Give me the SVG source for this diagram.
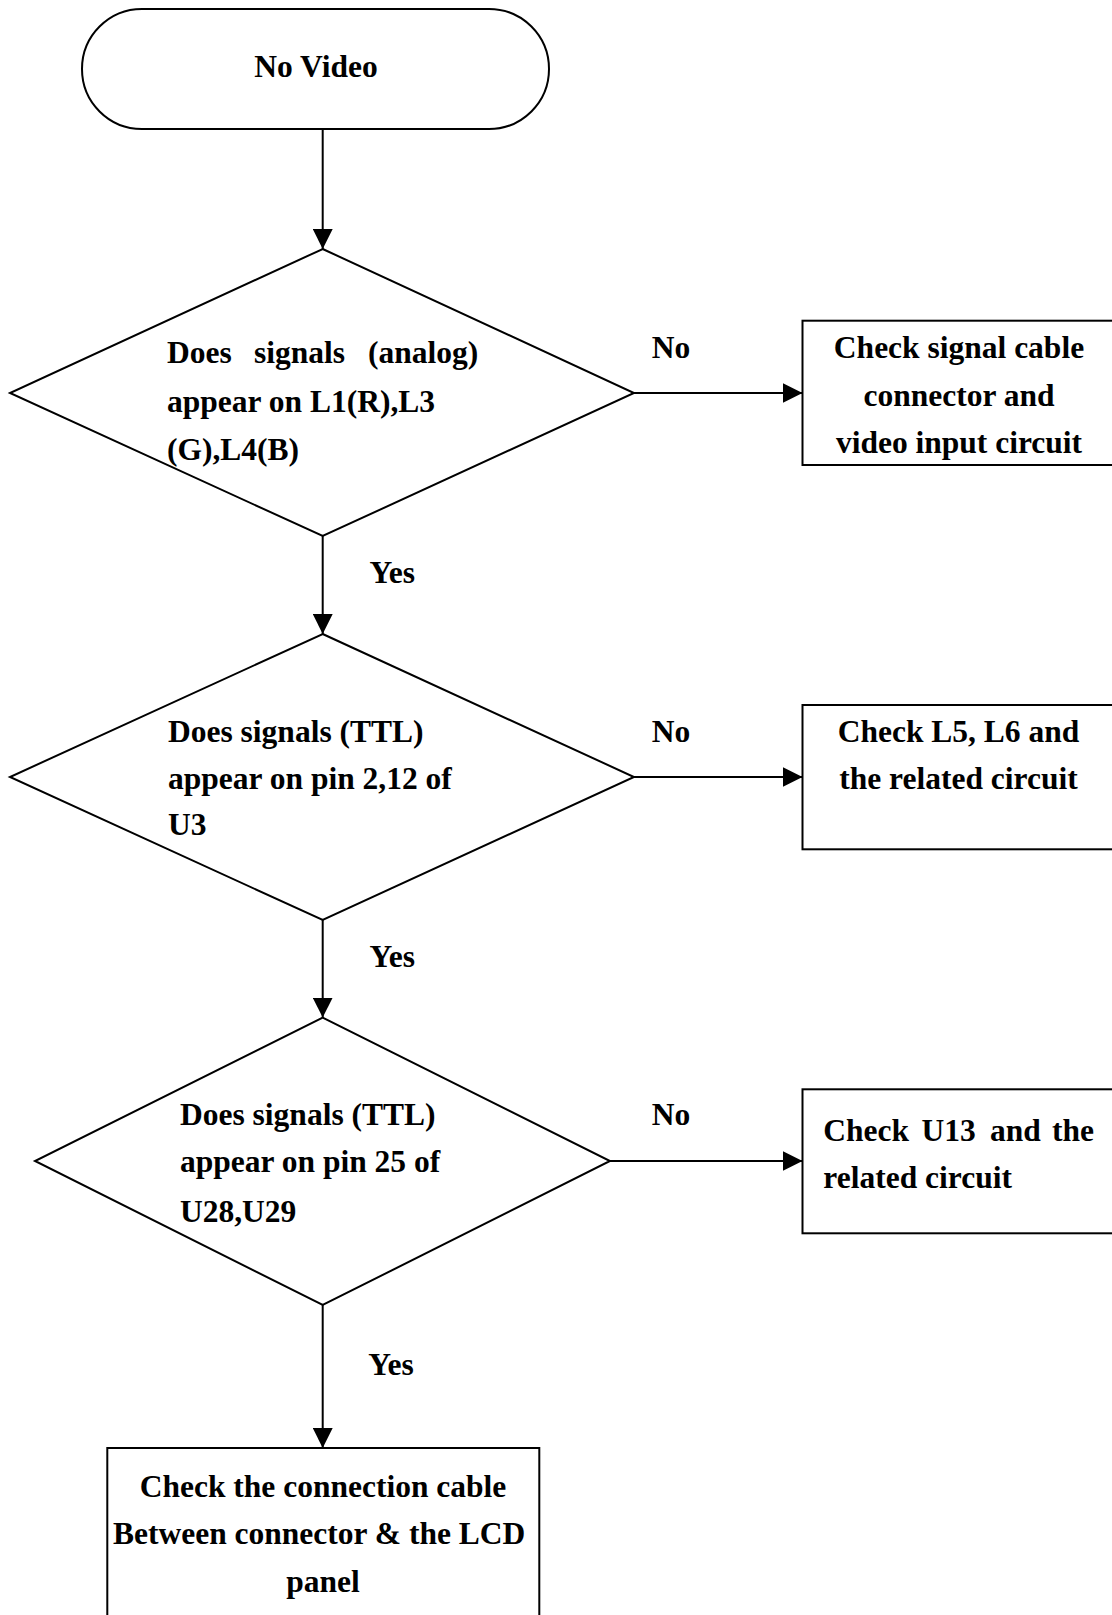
<svg xmlns="http://www.w3.org/2000/svg" width="1112" height="1615" viewBox="0 0 1112 1615">
<style>
.shape{fill:#fff;stroke:#000;stroke-width:2}
.conn{fill:none;stroke:#000;stroke-width:2}
text{font-family:"Liberation Serif","Times New Roman",serif;font-weight:bold;font-size:31.5px;fill:#000}
.mid{text-anchor:middle}
</style>
<defs>
<marker id="arrow" viewBox="0 0 20 20" refX="20" refY="10" markerWidth="20" markerHeight="20" markerUnits="userSpaceOnUse" orient="auto">
<path d="M0,0 L20,10 L0,20 Z" fill="#000"/>
</marker>
</defs>
<rect width="1112" height="1615" fill="#fff"/>
<g id="connectors">
<line class="conn" x1="322.7" y1="129" x2="322.7" y2="249" marker-end="url(#arrow)"/>
<line class="conn" x1="634" y1="393" x2="802.5" y2="393" marker-end="url(#arrow)"/>
<line class="conn" x1="322.7" y1="536" x2="322.7" y2="634" marker-end="url(#arrow)"/>
<line class="conn" x1="634" y1="777" x2="802.5" y2="777" marker-end="url(#arrow)"/>
<line class="conn" x1="322.7" y1="920" x2="322.7" y2="1017.6" marker-end="url(#arrow)"/>
<line class="conn" x1="610" y1="1161" x2="802.5" y2="1161" marker-end="url(#arrow)"/>
<line class="conn" x1="322.7" y1="1305" x2="322.7" y2="1448" marker-end="url(#arrow)"/>
<text x="651.8" y="358">No</text>
<text x="369.6" y="582.7">Yes</text>
<text x="651.8" y="741.7">No</text>
<text x="369.6" y="966.5">Yes</text>
<text x="651.8" y="1125">No</text>
<text x="368.3" y="1375">Yes</text>
</g>
<g id="start">
<rect class="shape" x="82" y="9" width="467" height="120" rx="60" ry="60"/>
<text class="mid" x="316" y="77">No Video</text>
</g>
<g id="decision1">
<polygon class="shape" points="322.7,249 634,393 322.7,536 10,393"/>
<text y="363"><tspan x="167">Does</tspan><tspan x="254">signals</tspan><tspan x="368">(analog)</tspan></text>
<text x="167" y="411.7">appear on L1(R),L3</text>
<text x="167" y="460">(G),L4(B)</text>
</g>
<g id="box1">
<rect class="shape" x="802.5" y="320.7" width="320" height="144.3"/>
<text class="mid" x="959" y="358">Check signal cable</text>
<text class="mid" x="959" y="405.5">connector and</text>
<text class="mid" x="959" y="453">video input circuit</text>
</g>
<g id="decision2">
<polygon class="shape" points="322.7,634 634,777 322.7,920 10,777"/>
<text x="168" y="741.7">Does signals (TTL)</text>
<text x="168" y="788.5">appear on pin 2,12 of</text>
<text x="168" y="835">U3</text>
</g>
<g id="box2">
<rect class="shape" x="802.5" y="705" width="320" height="144.3"/>
<text class="mid" x="958.5" y="741.7">Check L5, L6 and</text>
<text class="mid" x="958.5" y="789.3">the related circuit</text>
</g>
<g id="decision3">
<polygon class="shape" points="322.7,1017.6 610,1161 322.7,1305 35,1161"/>
<text x="180" y="1125">Does signals (TTL)</text>
<text x="180" y="1171.7">appear on pin 25 of</text>
<text x="180" y="1221.7">U28,U29</text>
</g>
<g id="box3">
<rect class="shape" x="802.5" y="1089.3" width="320" height="144"/>
<text y="1140.7"><tspan x="823.3">Check</tspan><tspan x="921.5">U13</tspan><tspan x="990">and</tspan><tspan x="1052">the</tspan></text>
<text x="823.3" y="1188.3">related circuit</text>
</g>
<g id="box4">
<rect class="shape" x="107.3" y="1448" width="432" height="200"/>
<text class="mid" x="323" y="1496.7">Check the connection cable</text>
<text x="113" y="1544">Between connector &amp; the LCD</text>
<text class="mid" x="323" y="1591.7">panel</text>
</g>
</svg>
